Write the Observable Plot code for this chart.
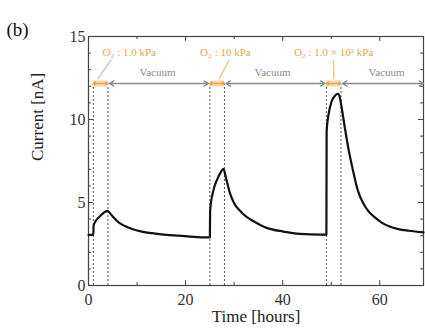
<!DOCTYPE html>
<html>
<head>
<meta charset="utf-8">
<script src="https://cdn.jsdelivr.net/npm/d3@7"></script>
<script src="https://cdn.jsdelivr.net/npm/@observablehq/plot@0.6"></script>
<style>
  html, body { margin: 0; padding: 0; background: #fff; }
  #chart svg { display: block; }
</style>
</head>
<body>
<div id="chart"></div>
<script>
// Curve: time [hours] and current [nA]
const time = [0, 1.0, 1.05, 1.5, 2.1, 3.0, 3.9, 4.0, 5.0, 6.2, 7.5, 9.0, 11, 13.1, 16, 18.6, 21, 24, 25.0,
  25.05, 25.7, 26.6, 27.2, 27.8, 28.3, 29.2, 30, 31.2, 32.5, 34, 36.7, 40.1, 43.6, 47.7, 49.0,
  49.05, 49.5, 50.1, 50.8, 51.4, 51.8, 52.1, 52.8, 53.5, 54.5, 55.5, 56.5, 57.6, 59, 60.3, 62, 63.8, 66, 69];
const current = [3.05, 3.05, 3.6, 3.9, 4.1, 4.35, 4.5, 4.48, 4.15, 3.8, 3.58, 3.4, 3.25, 3.15, 3.05, 3.0, 2.95, 2.9, 2.9,
  4.5, 5.7, 6.45, 6.8, 7.03, 6.5, 5.5, 4.95, 4.5, 4.15, 3.87, 3.47, 3.25, 3.11, 3.07, 3.07,
  9.3, 10.4, 11.1, 11.45, 11.55, 11.3, 10.8, 9.5, 8.3, 6.9, 5.7, 5.0, 4.5, 4.1, 3.8, 3.55, 3.4, 3.3, 3.2];

// O2 exposure windows (start, end) in hours
const exposureStart = [1, 25, 49];
const exposureEnd = [4, 28, 52];
const exposureLabels = ["O\u2082 : 1.0 kPa", "O\u2082 : 10 kPa", "O\u2082 : 1.0 \u00d7 10\u00b2 kPa"];
const exposureLabelX = [8.4, 28.2, 50.5];
const leaderFromX = [4.7, 29.0, 50.5];
const leaderToX = [1.9, 26.9, 50.5];

// Vacuum intervals
const vacuumStart = [4.3, 28.3, 52.3];
const vacuumEnd = [24.7, 48.7, 69];
const vacuumLabelX = [14.2, 37.9, 61.4];

// Ticks
const xMajor = [0, 20, 40, 60];
const xMinor = [10, 30, 50];
const yMajor = [0, 5, 10, 15];
const yMinor = [1, 2, 3, 4, 6, 7, 8, 9, 11, 12, 13, 14];

// Annotation rows (in current units)
const rowArrowY = 12.17, rowVacuumY = 12.83, rowLabelY = 14.02;

const curve = time.map((t, i) => ({t, c: current[i]}));
const exposures = exposureStart.map((s, i) => ({
  s, e: exposureEnd[i], m: (s + exposureEnd[i]) / 2,
  label: exposureLabels[i], lx: exposureLabelX[i], fx: leaderFromX[i], tx: leaderToX[i], first: i === 0
}));
const vacuums = vacuumStart.map((s, i) => ({s, e: vacuumEnd[i], m: (s + vacuumEnd[i]) / 2, lx: vacuumLabelX[i]}));
const dashes = exposureStart.concat(exposureEnd);

const FONT = "Liberation Serif, Times New Roman, serif";
const AX = "#444";
const ORANGE = "#eaa54e";
const GRAY = "#8a8a8a";

const chart = Plot.plot({
  width: 425,
  height: 336,
  marginLeft: 88,
  marginRight: 2,
  marginTop: 36,
  marginBottom: 51,
  style: {fontFamily: FONT, background: "#fff"},
  x: {domain: [0, 69], axis: null},
  y: {domain: [0, 15], axis: null},
  marks: [
    // dashed exposure boundaries
    Plot.ruleX(dashes, {x: d => d, y1: 0, y2: 12.1, stroke: "#555", strokeWidth: 1, strokeDasharray: "2,2"}),
    // ticks (inward) bottom/top
    Plot.ruleX(xMajor, {x: d => d, y1: 0, y2: 0.3, stroke: AX}),
    Plot.ruleX(xMinor, {x: d => d, y1: 0, y2: 0.18, stroke: AX}),
    Plot.ruleX(xMajor, {x: d => d, y1: 15, y2: 14.7, stroke: AX}),
    Plot.ruleX(xMinor, {x: d => d, y1: 15, y2: 14.82, stroke: AX}),
    // ticks left/right
    Plot.ruleY(yMajor, {y: d => d, x1: 0, x2: 1.03, stroke: AX}),
    Plot.ruleY(yMinor, {y: d => d, x1: 0, x2: 0.6, stroke: AX}),
    Plot.ruleY(yMajor, {y: d => d, x1: 69, x2: 67.97, stroke: AX}),
    Plot.ruleY(yMinor, {y: d => d, x1: 69, x2: 68.4, stroke: AX}),
    Plot.frame({stroke: AX, strokeWidth: 1.2}),
    // tick labels
    Plot.text(xMajor, {x: d => d, y: 0, text: d => String(d), dy: 14, fontSize: 16, fill: "#333", fontFamily: FONT}),
    Plot.text(yMajor, {x: 0, y: d => d, text: d => String(d), dx: -3, textAnchor: "end", fontSize: 16, fill: "#333", fontFamily: FONT}),
    // axis titles
    Plot.text(["Current [nA]"], {frameAnchor: "left", dx: -51, rotate: -90, fontSize: 17, fill: "#222", fontFamily: FONT}),
    Plot.text(["Time [hours]"], {frameAnchor: "bottom", dy: 36, fontSize: 17, fill: "#222", fontFamily: FONT}),
    Plot.text(["(b)"], {frameAnchor: "top-left", dx: -82, dy: -14, textAnchor: "start", fontSize: 19, fill: "#111", fontFamily: FONT}),
    // vacuum arrows (double-headed)
    Plot.arrow(vacuums, {x1: "m", y1: rowArrowY, x2: "s", y2: rowArrowY, stroke: GRAY, strokeWidth: 1.3, headLength: 6}),
    Plot.arrow(vacuums, {x1: "m", y1: rowArrowY, x2: "e", y2: rowArrowY, stroke: GRAY, strokeWidth: 1.3, headLength: 6}),
    Plot.text(vacuums, {x: "lx", y: rowVacuumY, text: () => "Vacuum", fontSize: 11, fill: GRAY, fontFamily: FONT}),
    // O2 exposure markers
    Plot.ruleY(exposures, {x1: "s", x2: "e", y: rowArrowY, stroke: "#fbd7ae", strokeWidth: 6}),
    Plot.arrow(exposures, {x1: "m", y1: rowArrowY, x2: "s", y2: rowArrowY, stroke: ORANGE, strokeWidth: 1.5, headLength: 4}),
    Plot.arrow(exposures, {x1: "m", y1: rowArrowY, x2: "e", y2: rowArrowY, stroke: ORANGE, strokeWidth: 1.5, headLength: 4}),
    Plot.link(exposures, {x1: "fx", y1: 13.6, x2: "tx", y2: 12.45, stroke: d => d.first ? "#b7c6dc" : "#f0bf82", strokeWidth: 1.3}),
    Plot.text(exposures, {x: "lx", y: rowLabelY, text: "label", fontSize: 11, fill: ORANGE, fontFamily: FONT}),
    // current curve
    Plot.line(curve, {x: "t", y: "c", stroke: "#111", strokeWidth: 2.2, curve: "monotone-x"})
  ]
});
document.getElementById("chart").appendChild(chart);
</script>
</body>
</html>
